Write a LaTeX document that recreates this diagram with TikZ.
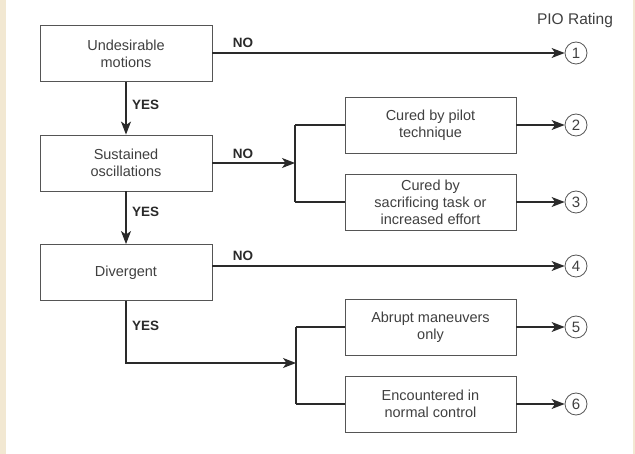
\documentclass[tikz,border=0pt]{standalone}
\usepackage{fontspec}
\setmainfont{Liberation Sans}
\usetikzlibrary{arrows.meta}
\definecolor{beige}{HTML}{F2E8D2}
\definecolor{ink}{HTML}{2A2A2A}
\definecolor{txt}{HTML}{404040}
\tikzset{
  box/.style={draw=ink!80, line width=0.9pt, minimum width=172pt, minimum height=56pt, align=center, inner sep=0pt, font=\fontsize{14.5}{17}\selectfont, text=txt},
  rbox/.style={box, minimum width=171pt},
  rating/.style={draw=ink!80, circle, line width=0.8pt, minimum size=22pt, inner sep=0pt, font=\fontsize{15}{15}\selectfont, text=txt},
  conn/.style={draw=ink, line width=1.1pt},
  arr/.style={conn, -{Stealth[length=13pt,width=10pt,inset=3.5pt]}},
  lab/.style={font=\bfseries\fontsize{13.5}{14}\selectfont, text=ink, inner sep=0pt}
}
\begin{document}
\begin{tikzpicture}[x=1pt,y=-1pt]
\useasboundingbox (0,0) rectangle (635,454);
\fill[white] (0,0) rectangle (635,454);
\fill[beige] (0,0) rectangle (6,454);
\fill[beige] (633,0) rectangle (635,454);

\node[box] (b1) at (126,53.5) {Undesirable\\motions};
\node[box] (b2) at (126,163) {Sustained\\oscillations};
\node[box] (b3) at (126,272.5) {Divergent};

\node[rbox] (r2) at (430.5,125) {Cured by pilot\\technique};
\node[rbox] (r3) at (430.5,202) {Cured by\\sacrificing task or\\increased effort};
\node[rbox] (r5) at (430.5,327) {Abrupt maneuvers\\only};
\node[rbox] (r6) at (430.5,404) {Encountered in\\normal control};

\node[font=\fontsize{15.5}{15}\selectfont, text=txt] (pio) at (575,20) {PIO Rating};
\node[rating] (c1) at (576,53) {1};
\node[rating] (c2) at (576,125) {2};
\node[rating] (c3) at (576,202) {3};
\node[rating] (c4) at (576,266) {4};
\node[rating] (c5) at (576,327) {5};
\node[rating] (c6) at (576,404) {6};

% vertical YES arrows
\draw[arr] (b1.south) -- (b2.north);
\draw[arr] (b2.south) -- (b3.north);
\node[lab, anchor=west] (y1) at (132,105) {YES};
\node[lab, anchor=west] (y2) at (132,212) {YES};
\node[lab, anchor=west] (y3) at (132,326) {YES};

% NO branches
\draw[arr] (b1.east |- c1) -- (c1.west);
\node[lab] (n1) at (243,43) {NO};
\coordinate (j1) at (295,163);
\coordinate (j1t) at (295,125);
\coordinate (j1b) at (295,202);
\draw[arr] (b2.east |- j1) -- (j1);
\node[lab] (n2) at (243,154) {NO};
\draw[conn] (j1t) -- (j1b);
\draw[conn] (j1t) -- (r2.west);
\draw[conn] (j1b) -- (r3.west);
\draw[arr] (b3.east |- c4) -- (c4.west);
\node[lab] (n3) at (243,256) {NO};

% YES from divergent
\coordinate (k0) at (b3.south |- 0,363);
\coordinate (j2) at (296,363);
\coordinate (j2t) at (296,327);
\coordinate (j2b) at (296,404);
\draw[arr] (b3.south) -- (k0) -- (j2);
\draw[conn] (j2t) -- (j2b);
\draw[conn] (j2t) -- (r5.west);
\draw[conn] (j2b) -- (r6.west);

% to ratings
\draw[arr] (r2.east) -- (c2.west);
\draw[arr] (r3.east) -- (c3.west);
\draw[arr] (r5.east) -- (c5.west);
\draw[arr] (r6.east) -- (c6.west);
\end{tikzpicture}
\end{document}
